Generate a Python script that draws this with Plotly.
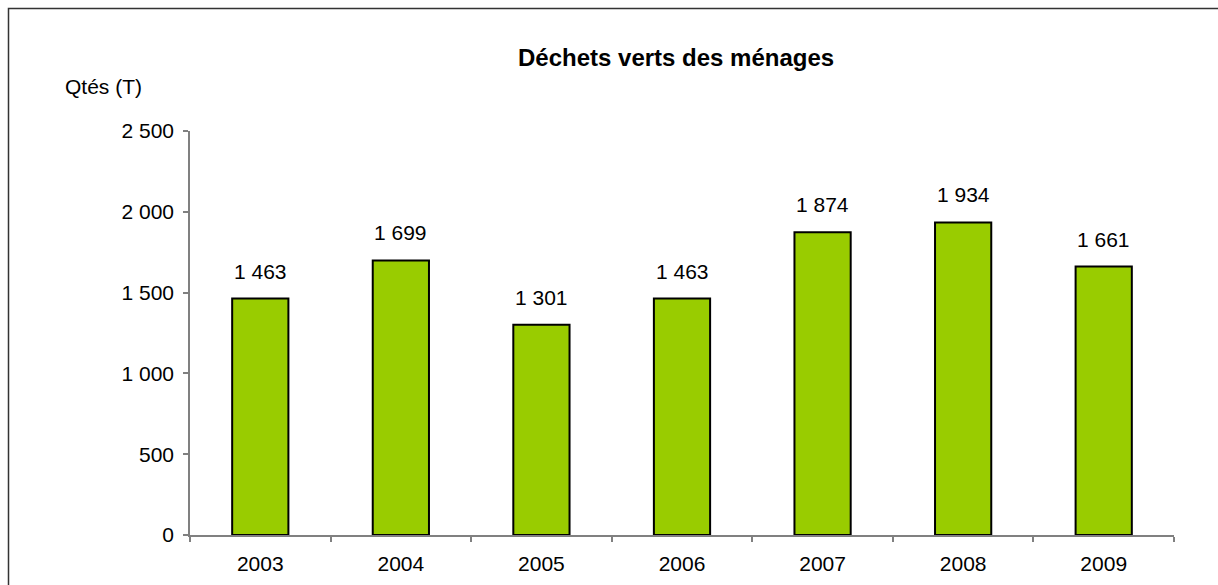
import plotly.graph_objects as go

years = ["2003", "2004", "2005", "2006", "2007", "2008", "2009"]
values = [1463, 1699, 1301, 1463, 1874, 1934, 1661]
title_text = "Déchets verts des ménages"
y_title = "Qtés (T)"
y_ticks = [0, 500, 1000, 1500, 2000, 2500]

W, H = 1218, 585
L, R, T, B = 190, 44, 131, 50
pw, ph = W - L - R, H - T - B

def px_x(px):
    return (px - L) / pw

def px_y(py):
    return (H - B - py) / ph

FONT = "Liberation Sans, Arial, sans-serif"

fig = go.Figure()
fig.add_trace(go.Bar(
    x=years, y=values,
    marker=dict(color="#99CC00", line=dict(color="#000000", width=2)),
    width=0.4,
    hoverinfo="x+y",
))

for i, v in enumerate(values):
    fig.add_annotation(
        x=i, y=v, xref="x", yref="y",
        text=f"{v:,}".replace(",", " "),
        showarrow=False, yanchor="bottom", yshift=14,
        font=dict(family=FONT, size=21, color="#000000"),
    )

fig.add_annotation(
    x=px_x(675.5), y=px_y(57), xref="paper", yref="paper",
    text="<b>" + title_text + "</b>", showarrow=False,
    xanchor="center", yanchor="middle",
    font=dict(family=FONT, size=24, color="#000000"),
)
fig.add_annotation(
    x=px_x(63), y=px_y(87), xref="paper", yref="paper",
    text=y_title, showarrow=False,
    xanchor="left", yanchor="middle",
    font=dict(family=FONT, size=21, color="#000000"),
)

fig.add_shape(
    type="rect", xref="paper", yref="paper",
    x0=px_x(8.5), x1=px_x(1240), y0=px_y(8.5), y1=px_y(620),
    line=dict(color="#333333", width=1.5), fillcolor="rgba(0,0,0,0)",
    layer="below",
)

fig.update_layout(
    width=W, height=H,
    margin=dict(l=L, r=R, t=T, b=B, autoexpand=False),
    paper_bgcolor="white", plot_bgcolor="white",
    showlegend=False,
    separators=", ",
    font=dict(family=FONT, size=21, color="#000000"),
    bargap=0.6,
)
fig.update_xaxes(
    type="category", showline=True, linecolor="#808080", linewidth=1.5,
    ticks="outside", tickson="boundaries", ticklen=5, tickcolor="#808080",
    tickwidth=1.5, showgrid=False, ticklabelstandoff=9,
    tickfont=dict(family=FONT, size=21, color="#000000"),
    range=[-0.5, 6.5], fixedrange=True,
)
fig.update_yaxes(
    range=[0, 2500], tickvals=y_ticks, separatethousands=True,
    showline=True, linecolor="#808080", linewidth=1.5,
    ticks="outside", ticklen=5, tickcolor="#808080", tickwidth=1.5,
    showgrid=False, zeroline=False, ticklabelstandoff=5,
    tickfont=dict(family=FONT, size=21, color="#000000"),
    fixedrange=True,
)

fig.write_html(
    "out.html",
    config={"displayModeBar": False},
    post_script="document.body.style.margin='0';document.body.style.overflow='hidden';",
)
